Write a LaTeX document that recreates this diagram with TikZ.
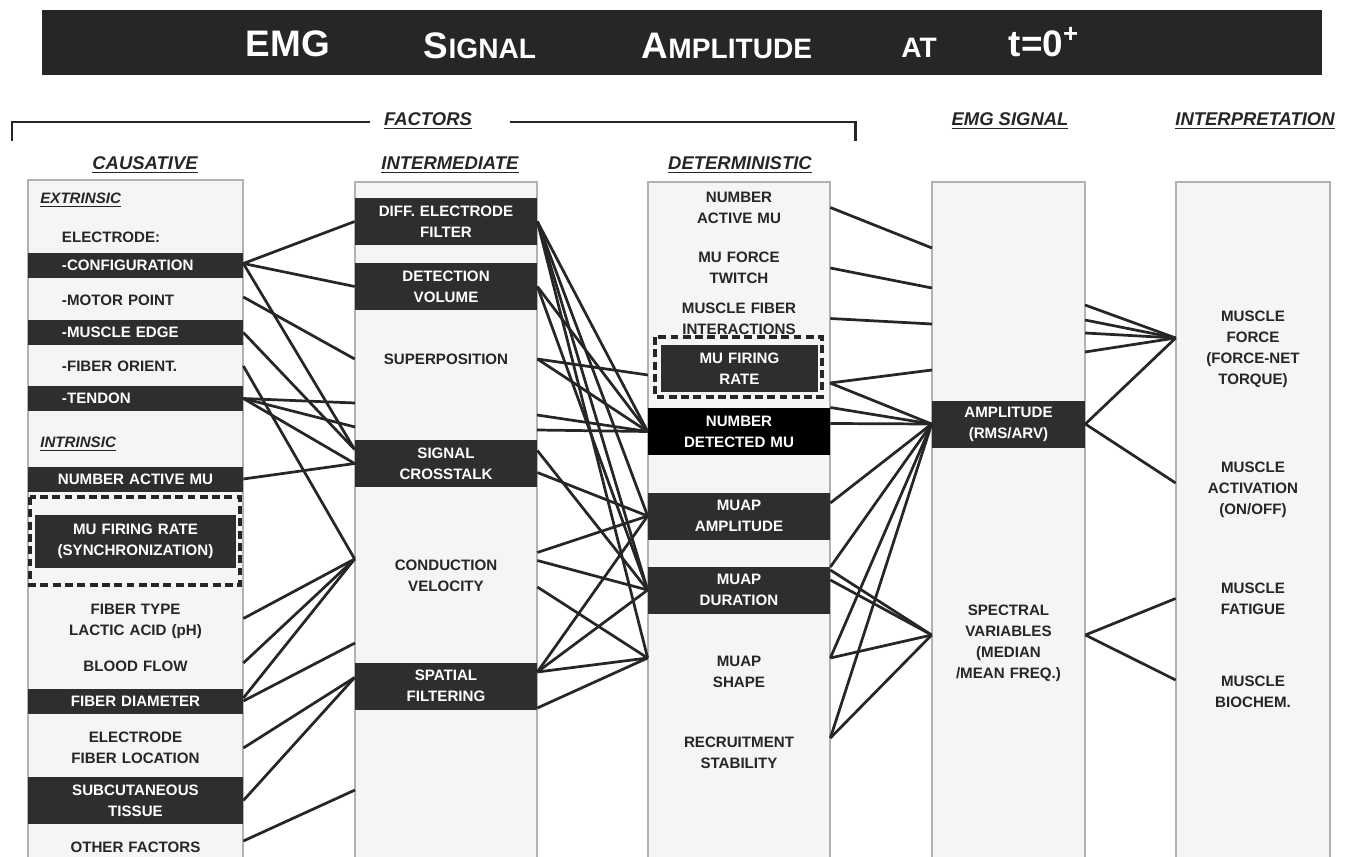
\documentclass[tikz,border=0pt]{standalone}
\usepackage{fontspec}
\setmainfont{Liberation Sans}
\usepackage{tikz}
\usetikzlibrary{positioning}

\newcommand{\itemfont}{\bfseries\fontsize{8.6}{12}\selectfont}
\newcommand{\headfont}{\bfseries\itshape\fontsize{10.5}{12}\selectfont}
\newcommand{\subfont}{\bfseries\itshape\fontsize{8.6}{12}\selectfont}
\newcommand{\bigsc}[2]{{\fontsize{21}{21}\selectfont #1}{\fontsize{16}{16}\selectfont #2}}

\tikzset{
  colbox/.style={fill=black!4, draw=black!30, line width=0.6pt},
  bar/.style={fill=black!82, text=white, inner sep=0pt, align=center, font=\itemfont, minimum height=5mm},
  tall/.style={minimum height=9.4mm},
  plain/.style={text=black!85, inner sep=0pt, align=center, font=\itemfont},
  colA/.style={text width=43mm},
  colB/.style={text width=36.4mm},
  colC/.style={text width=36.4mm},
  colD/.style={text width=30.6mm},
  colE/.style={text width=30.8mm},
  head/.style={font=\headfont, text=black!85, inner sep=0pt},
  wire/.style={line width=1.55pt, black!85},
  dashbox/.style={draw=black!85, line width=1.9pt, dash pattern=on 4.5pt off 2.5pt}
}

\begin{document}
\begin{tikzpicture}[x=0.2mm, y=-0.2mm]
        \useasboundingbox (0,0) rectangle (1355,857);
        \fill[white] (0,0) rectangle (1355,857);

        % Title bar
        \fill[black!85] (42,10) rectangle (1322,75);
        \node[text=white, font=\bfseries] (t1) at (288,44) {\bigsc{EMG}{}};
        \node[text=white, font=\bfseries] (t2) at (480,46) {\bigsc{S}{IGNAL}};
        \node[text=white, font=\bfseries] (t3) at (727,46) {\bigsc{A}{MPLITUDE}};
        \node[text=white, font=\bfseries] (t4) at (919,48) {\bigsc{}{AT}};
        \node[text=white, font=\bfseries] (t5) at (1044,42) {\bigsc{t=0\textsuperscript{+}}{}};

        % Headings
        \node[head] (fac) at (428,121) {\underline{FACTORS}};
        \draw[line width=1.7pt, black!85] (12,141) -- (12,122) -- (370,122);
        \draw[line width=1.7pt, black!85] (510,122) -- (855,122) -- (855,141);
        \node[head] (hsig) at (1010,121) {\underline{EMG SIGNAL}};
        \node[head] (hint) at (1255,121) {\underline{INTERPRETATION}};
        \node[head] (hcau) at (145,165) {\underline{CAUSATIVE}};
        \node[head] (hmid) at (450,165) {\underline{INTERMEDIATE}};
        \node[head] (hdet) at (740,165) {\underline{DETERMINISTIC}};

        % Columns
        \foreach \xa/\xb/\ya in {28/243/180, 355/537/182, 648/830/182, 932/1085/182, 1176/1330/182} {
            \fill[black!4] (\xa,\ya) rectangle (\xb,857);
            \draw[black!30, line width=0.6pt] (\xa,857) -- (\xa,\ya) -- (\xb,\ya) -- (\xb,857);
        }

        % Causative
        \node[text=black!85, font=\subfont, anchor=west, inner sep=0pt] (ext) at (40,200) {\underline{EXTRINSIC}};
        \node[plain, colA, align=left] (elec) at (135.5,237) {\hspace*{6.8mm}ELECTRODE:};
        \node[bar, colA, align=left] (cfg) at (135.5,265.5) {\hspace*{6.8mm}-CONFIGURATION};
        \node[plain, colA, align=left] (mot) at (135.5,300) {\hspace*{6.8mm}-MOTOR POINT};
        \node[bar, colA, align=left] (edge) at (135.5,332.5) {\hspace*{6.8mm}-MUSCLE EDGE};
        \node[plain, colA, align=left] (ori) at (135.5,366) {\hspace*{6.8mm}-FIBER ORIENT.};
        \node[bar, colA, align=left] (ten) at (135.5,398.5) {\hspace*{6.8mm}-TENDON};
        \node[text=black!85, font=\subfont, anchor=west, inner sep=0pt] (intr) at (40,444) {\underline{INTRINSIC}};
        \node[bar, colA] (nam) at (135.5,479) {NUMBER ACTIVE MU};
        \draw[dashbox] (30,497) rectangle (240,585);
        \node[bar, tall, text width=40.2mm, minimum height=10.6mm] (fr1) at (135.5,541.5) {MU FIRING RATE\\(SYNCHRONIZATION)};
        \node[plain, colA] (ftype) at (135.5,621.5) {FIBER TYPE\\LACTIC ACID (pH)};
        \node[plain, colA] (blood) at (135.5,666) {BLOOD FLOW};
        \node[bar, colA] (fdia) at (135.5,701) {FIBER DIAMETER};
        \node[plain, colA] (efl) at (135.5,748) {ELECTRODE\\FIBER LOCATION};
        \node[bar, tall, colA] (sub) at (135.5,800.5) {SUBCUTANEOUS\\TISSUE};
        \node[plain, colA] (oth) at (135.5,847) {OTHER FACTORS};

        % Intermediate
        \node[bar, tall, colB] (diff) at (446,221.5) {DIFF. ELECTRODE\\FILTER};
        \node[bar, tall, colB] (det) at (446,286.5) {DETECTION\\VOLUME};
        \node[plain, colB] (sup) at (446,359) {SUPERPOSITION};
        \node[bar, tall, colB] (xtalk) at (446,463.5) {SIGNAL\\CROSSTALK};
        \node[plain, colB] (cv) at (446,575.5) {CONDUCTION\\VELOCITY};
        \node[bar, tall, colB] (spat) at (446,686) {SPATIAL\\FILTERING};

        % Deterministic
        \node[plain, colC] (namu) at (739,207.5) {NUMBER\\ACTIVE MU};
        \node[plain, colC] (twitch) at (739,268) {MU FORCE\\TWITCH};
        \node[plain, colC] (mfi) at (739,318.5) {MUSCLE FIBER\\INTERACTIONS};
        \draw[dashbox] (655,337) rectangle (822,397);
        \node[bar, tall, text width=31.4mm] (fr3) at (739.5,368.5) {MU FIRING\\RATE};
        \node[bar, tall, colC, fill=black] (ndmu) at (739,431.5) {NUMBER\\DETECTED MU};
        \node[bar, tall, colC] (mamp) at (739,516) {MUAP\\AMPLITUDE};
        \node[bar, tall, colC] (mdur) at (739,590) {MUAP\\DURATION};
        \node[plain, colC] (mshape) at (739,672) {MUAP\\SHAPE};
        \node[plain, colC] (recr) at (739,753) {RECRUITMENT\\STABILITY};

        % EMG signal
        \node[bar, tall, colD] (amp) at (1008.5,424) {AMPLITUDE\\(RMS/ARV)};
        \node[plain, colD] (spec) at (1008.5,643) {SPECTRAL\\VARIABLES\\(MEDIAN\\/MEAN FREQ.)};

        % Interpretation
        \node[plain, colE] (force) at (1253,349) {MUSCLE\\FORCE\\(FORCE-NET\\TORQUE)};
        \node[plain, colE] (act) at (1253,490) {MUSCLE\\ACTIVATION\\(ON/OFF)};
        \node[plain, colE] (fat) at (1253,598.5) {MUSCLE\\FATIGUE};
        \node[plain, colE] (bio) at (1253,691.5) {MUSCLE\\BIOCHEM.};

        % Connector ends
        \coordinate (xin) at ([yshift=2.8mm]xtalk.west);
        \coordinate (cvin) at ([yshift=3.3mm]cv.west);
        \coordinate (spin) at ([yshift=1.7mm]spat.west);
        \coordinate (shin) at ([yshift=2.8mm]mshape.west);
        \coordinate (shout) at ([yshift=2.8mm]mshape.east);
        \coordinate (specin) at ([yshift=1.6mm]spec.west);
        \coordinate (specout) at ([yshift=1.6mm]spec.east);
        \coordinate (fin) at ([yshift=2.2mm]force.west);
        \coordinate (actin) at ([yshift=1.4mm]act.west);
        \coordinate (bioin) at ([yshift=2.3mm]bio.west);
        \coordinate (b1) at (355,403);
        \coordinate (b2) at (355,427);
        \coordinate (b3) at (355,643);
        \coordinate (b4) at (355,790);
        \coordinate (b5) at (537,415);
        \coordinate (b6) at (537,430);
        \coordinate (c1) at (648,375);
        \coordinate (c2) at (830,383);
        \coordinate (d1) at (932,248);
        \coordinate (d2) at (932,288);
        \coordinate (d3) at (932,324);
        \coordinate (d4) at (932,370);

        % Causative -> intermediate
        \foreach \t in {diff.west, det.west, xin}
            \draw[wire] ([yshift=0.4mm]cfg.east) -- (\t);
        \draw[wire] ([yshift=0.6mm]mot.east) -- (sup.west);
        \draw[wire] (edge.east) -- (xin);
        \draw[wire] (ori.east) -- (cvin);
        \foreach \t in {b1, b2, xtalk.west}
            \draw[wire] (ten.east) -- (\t);
        \draw[wire] (nam.east) -- (xtalk.west);
        \foreach \s in {ftype, blood, fdia}
            \draw[wire] ([yshift=0.6mm]\s.east) -- (cvin);
        \draw[wire] (fdia.east) -- (b3);
        \draw[wire] (efl.east) -- (spin);
        \draw[wire] (sub.east) -- (spin);
        \draw[wire] ([yshift=1.2mm]oth.east) -- (b4);

        % Intermediate -> deterministic
        \foreach \t in {ndmu.west, mamp.west, mdur.west, shin}
            \draw[wire] (diff.east) -- (\t);
        \foreach \t in {ndmu.west, mdur.west}
            \draw[wire] (det.east) -- (\t);
        \draw[wire] (sup.east) -- (c1);
        \draw[wire] (sup.east) -- (ndmu.west);
        \draw[wire] (b5) -- (ndmu.west);
        \draw[wire] (b6) -- (ndmu.west);
        \draw[wire] ([yshift=2.6mm]xtalk.east) -- (mdur.west);
        \draw[wire] ([yshift=-1.8mm]xtalk.east) -- (mamp.west);
        \draw[wire] ([yshift=4.6mm]cv.east) -- (mamp.west);
        \draw[wire] ([yshift=3mm]cv.east) -- (mdur.west);
        \draw[wire] ([yshift=-2.3mm]cv.east) -- (shin);
        \foreach \t in {mamp.west, mdur.west, shin}
            \draw[wire] ([yshift=2.8mm]spat.east) -- (\t);
        \draw[wire] ([yshift=-4.4mm]spat.east) -- (shin);

        % Deterministic -> EMG signal
        \draw[wire] (namu.east) -- (d1);
        \draw[wire] (twitch.east) -- (d2);
        \draw[wire] (mfi.east) -- (d3);
        \draw[wire] (c2) -- (d4);
        \draw[wire] (c2) -- (amp.west);
        \draw[wire] ([yshift=4.8mm]ndmu.east) -- (amp.west);
        \draw[wire] ([yshift=1.6mm]ndmu.east) -- (amp.west);
        \draw[wire] ([yshift=2.6mm]mamp.east) -- (amp.west);
        \draw[wire] ([yshift=4.6mm]mdur.east) -- (amp.west);
        \draw[wire] ([yshift=4mm]mdur.east) -- (specin);
        \draw[wire] ([yshift=2mm]mdur.east) -- (specin);
        \draw[wire] (shout) -- (amp.west);
        \draw[wire] (shout) -- (specin);
        \draw[wire] ([yshift=3mm]recr.east) -- (amp.west);
        \draw[wire] ([yshift=3mm]recr.east) -- (specin);

        % EMG signal -> interpretation
        \foreach \y in {305, 320, 333, 352}
            \draw[wire] (1085,\y) -- (fin);
        \draw[wire] (amp.east) -- (fin);
        \draw[wire] (amp.east) -- (actin);
        \draw[wire] (specout) -- (fat.west);
        \draw[wire] (specout) -- (bioin);
    \end{tikzpicture}
\end{document}
